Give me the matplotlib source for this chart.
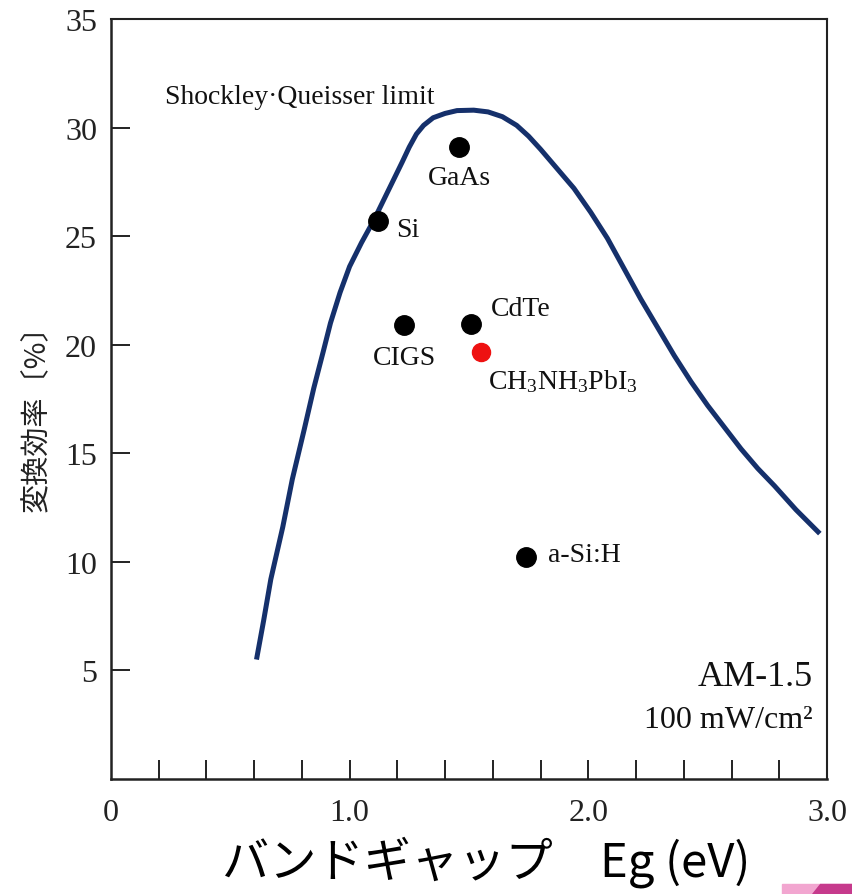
import numpy as np
import matplotlib
matplotlib.use("Agg")
import matplotlib.pyplot as plt
from matplotlib.patches import Polygon

# Shockley-Queisser limit curve
sq_eg = [0.61, 0.64, 0.67, 0.72, 0.76, 0.81, 0.85, 0.89, 0.92, 0.96, 1.00,
         1.05, 1.10, 1.14, 1.18, 1.22, 1.25, 1.28, 1.31, 1.35, 1.40, 1.45,
         1.52, 1.58, 1.64, 1.70, 1.75, 1.80, 1.87, 1.94, 2.01, 2.08, 2.15,
         2.22, 2.29, 2.36, 2.43, 2.50, 2.57, 2.64, 2.71, 2.78, 2.87, 2.97]
sq_eff = [5.5, 7.3, 9.2, 11.6, 13.8, 16.1, 18.0, 19.7, 21.0, 22.4, 23.6,
          24.7, 25.7, 26.6, 27.5, 28.4, 29.1, 29.7, 30.1, 30.45, 30.65, 30.78,
          30.8, 30.72, 30.5, 30.1, 29.6, 29.0, 28.1, 27.2, 26.1, 24.9, 23.5,
          22.1, 20.8, 19.5, 18.3, 17.2, 16.2, 15.2, 14.3, 13.5, 12.4, 11.3]

# cells
cells = ["GaAs", "Si", "CIGS", "CdTe", "a-Si:H"]
cell_eg = [1.46, 1.12, 1.23, 1.51, 1.74]
cell_eff = [29.1, 25.7, 20.9, 20.95, 10.2]

perov_name = r"$\mathrm{CH_3NH_3PbI_3}$"
perov_eg = 1.55
perov_eff = 19.65

x_ticklabels = {0: "0", 1.0: "1.0", 2.0: "2.0", 3.0: "3.0"}
y_ticks = [5, 10, 15, 20, 25, 30, 35]

serif = "Liberation Serif"
plt.rcParams["mathtext.fontset"] = "custom"
plt.rcParams["mathtext.rm"] = serif

fig = plt.figure(figsize=(8.53, 8.95), dpi=100)
ax = fig.add_axes([0.130, 0.1285, 0.8395, 0.8492])

ax.plot(sq_eg, sq_eff, color="#15306b", lw=3.6, solid_capstyle="butt",
        solid_joinstyle="round")
ax.plot(cell_eg, cell_eff, "o", color="black", ms=14)
ax.plot([perov_eg], [perov_eff], "o", color="#ee1111", ms=13)

ax.set_xlim(0, 3.0)
ax.set_ylim(0, 35)

# labels next to the dots (alignment, offset in points)
label_pos = {"GaAs": ("center", (0, -22)),
             "Si": ("left", (13, -6)),
             "CIGS": ("center", (0, -23)),
             "CdTe": ("left", (14, 11)),
             "a-Si:H": ("left", (16, 2))}
for name, x, y in zip(cells, cell_eg, cell_eff):
    ha, off = label_pos[name]
    ax.annotate(name, (x, y), xytext=off, textcoords="offset points",
                ha=ha, va="center", fontsize=20, family=serif, color="#111111")
ax.annotate(perov_name, (perov_eg, perov_eff), xytext=(5, -20),
            textcoords="offset points", ha="left", va="center", fontsize=20,
            color="#111111")

ax.text(0.226, 31.45, "Shockley\u00b7Queisser limit", fontsize=20,
        family=serif, va="center", ha="left", color="#111111")
ax.text(2.94, 4.7, "AM-1.5", fontsize=26, family=serif, ha="right",
        va="center", color="#111111")
ax.text(2.94, 2.75, "100 mW/cm\u00b2", fontsize=23, family=serif,
        ha="right", va="center", color="#111111")

# ticks
ax.set_xticks(np.arange(0.2, 2.81, 0.2))
ax.set_xticklabels([])
ax.tick_params(axis="x", direction="in", length=13.5, width=1.4, color="#222222")
for v, s in x_ticklabels.items():
    ax.annotate(s, (v, 0), xycoords=("data", "axes fraction"), xytext=(0, -24),
                textcoords="offset points", ha="center", va="center",
                fontsize=23, family=serif, color="#222222")
ax.set_yticks(y_ticks)
ax.set_yticklabels([str(v) for v in y_ticks], fontsize=23, family=serif,
                   color="#222222")
ax.tick_params(axis="y", direction="in", length=13.5, width=1.4, pad=10,
               color="#222222")

ax.spines["top"].set_linewidth(1.5)
ax.spines["right"].set_linewidth(1.5)
for sp in ["left", "bottom"]:
    ax.spines[sp].set_linewidth(1.8)
for sp in ax.spines.values():
    sp.set_color("#222222")

fig.text(486 / 853, 1 - 862 / 895, "バンドギャップ\u3000Eg (eV)", fontsize=34,
         family=["Noto Sans CJK JP", "DejaVu Sans"], ha="center", va="center")
fig.text(36 / 853, 1 - 411 / 895, "変換効率〔%〕", fontsize=21, rotation=90,
         family=["Noto Sans CJK JP", "DejaVu Sans"], ha="center", va="center",
         color="#222222")

# slide corner decoration
fig.patches.append(Polygon([[782 / 853, 0], [853 / 853, 0], [853 / 853, 10 / 895],
                            [782 / 853, 10 / 895]], closed=True,
                           transform=fig.transFigure, color="#f2a6d0"))
fig.patches.append(Polygon([[812 / 853, 0], [853 / 853, 0], [853 / 853, 10 / 895],
                            [820 / 853, 10 / 895]], closed=True,
                           transform=fig.transFigure, color="#c63a8c"))

fig.savefig("out.png", dpi=100)
